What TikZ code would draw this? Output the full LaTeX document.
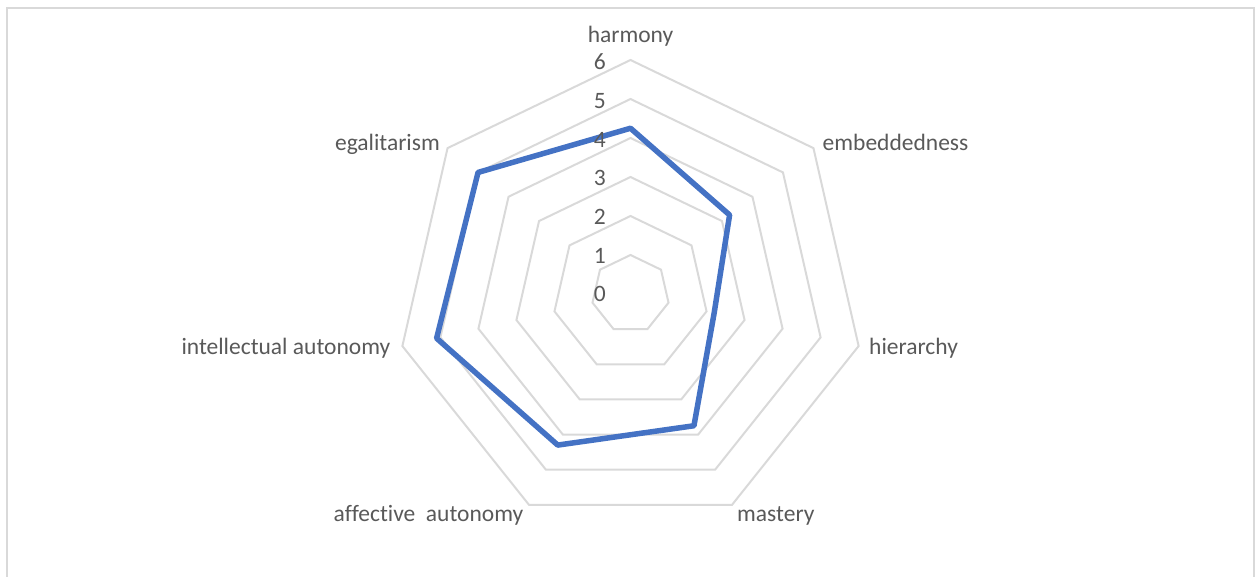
\documentclass[tikz,border=0pt]{standalone}
\usepackage{fontspec}
\setmainfont[Ligatures=NoCommon]{Carlito}
\definecolor{gridc}{HTML}{D9D9D9}
\definecolor{txtc}{HTML}{595959}
\definecolor{serc}{HTML}{4472C4}
\begin{document}
\begin{tikzpicture}[x=1pt,y=1pt,
  lbl/.style={text=txtc, inner sep=0pt, font=\fontsize{23.5}{28}\selectfont},
  ring/.style={draw=gridc, line width=2pt},
  series/.style={draw=serc, line width=5.5pt, line join=round}]
\useasboundingbox (0,0) rectangle (1255,576);
\draw[gridc, line width=2pt] (7,-10) rectangle (1254,568);
\coordinate (c) at (630.5,282);
% grid rings
\foreach \k in {1,...,6}{
  \pgfmathsetmacro\r{39*\k}
  \draw[ring] ([shift={(90:\r)}]c) \foreach \j in {1,...,6}{ -- ([shift={(90-\j*360/7:\r)}]c) } -- cycle;
}
% data points
\foreach \v [count=\j from 0] in {4.25,3.25,2.2,3.75,4.3,5.1,5.0}{
  \pgfmathsetmacro\rr{39*\v}
  \coordinate (d\j) at ([shift={(90-\j*360/7:\rr)}]c);
}
\draw[series] (d0) -- (d1) -- (d2) -- (d3) -- (d4) -- (d5) -- (d6) -- cycle;
% axis tick labels
\foreach \k in {0,...,6}{
  \node[lbl, anchor=base east] (t\k) at (606, 274+38.7*\k) {\k};
}
% category labels
\node[lbl, anchor=base] (harmony) at (630.5, 533) {harmony};
\node[lbl, anchor=base west] (emb) at (822.5, 425.5) {embeddedness};
\node[lbl, anchor=base west] (hier) at (869, 221) {hierarchy};
\node[lbl, anchor=base west] (mast) at (737, 55) {mastery};
\node[lbl, anchor=base east] (aff) at (523.5, 55) {affect\kern0pt ive\ \ autonomy};
\node[lbl, anchor=base east] (intel) at (390.5, 221) {intellectual autonomy};
\node[lbl, anchor=base east] (egal) at (440, 425.5) {egalitarism};
\end{tikzpicture}
\end{document}
